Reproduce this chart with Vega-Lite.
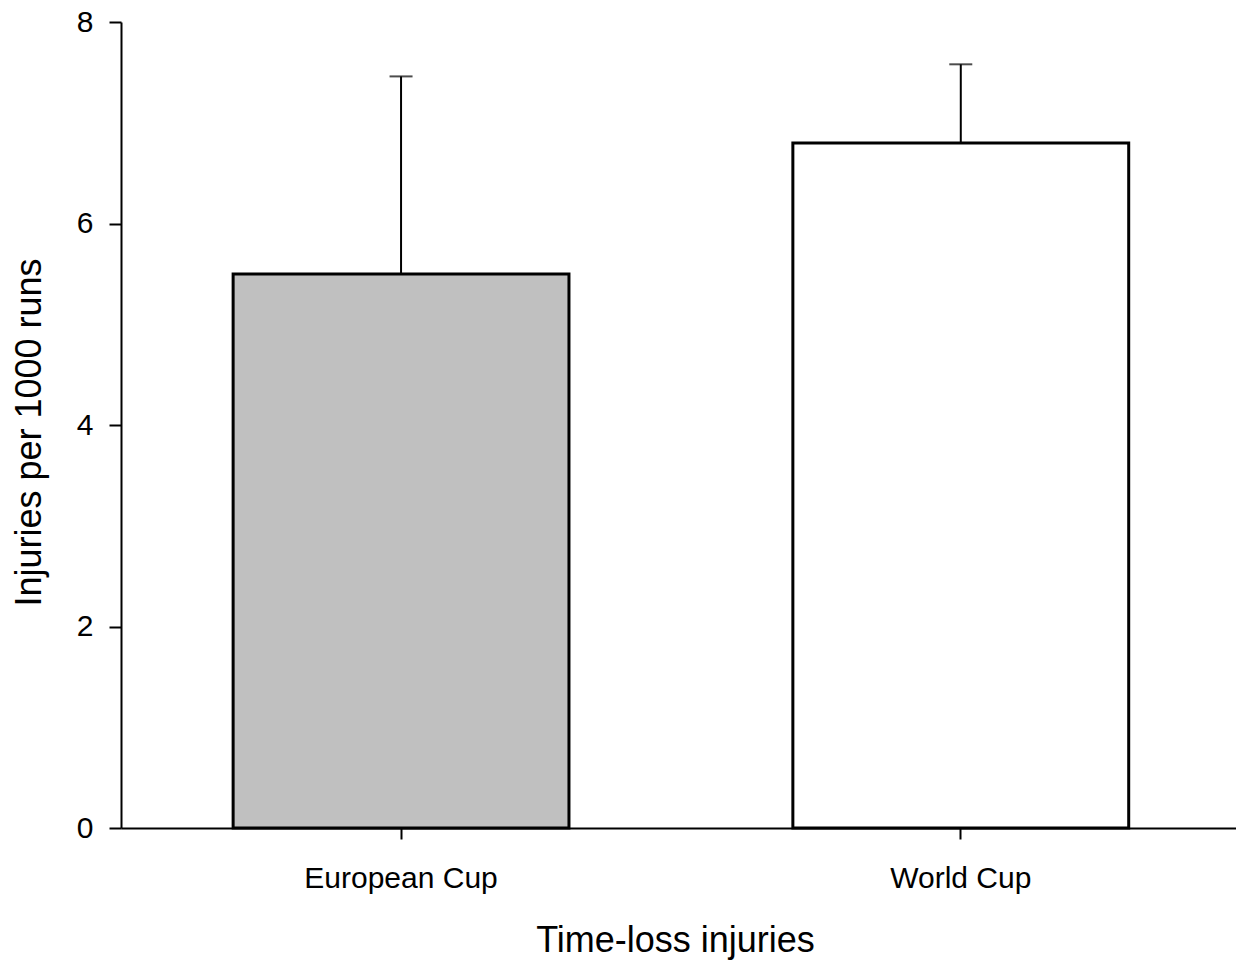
{
  "$schema": "https://vega.github.io/schema/vega-lite/v6.json",
  "width": 1115,
  "height": 806,
  "autosize": "none",
  "padding": {"left": 121, "top": 22, "right": 0, "bottom": 138},
  "background": "white",
  "config": {
    "view": {"stroke": null},
    "font": "Liberation Sans",
    "axis": {
      "domainColor": "black",
      "domainWidth": 2,
      "tickColor": "black",
      "tickWidth": 2,
      "labelColor": "black",
      "titleColor": "black",
      "labelFontSize": 30,
      "titleFontSize": 36,
      "titleFontWeight": "normal",
      "labelLimit": 0,
      "grid": false
    }
  },
  "data": {
    "values": [
      {"event": "European Cup", "rate": 5.5, "upper": 7.46},
      {"event": "World Cup", "rate": 6.8, "upper": 7.58}
    ]
  },
  "encoding": {
    "x": {
      "field": "event",
      "type": "nominal",
      "sort": null,
      "scale": {"type": "band", "paddingInner": 0.4, "paddingOuter": 0.196, "align": 0.511},
      "axis": {
        "title": "Time-loss injuries",
        "labelAngle": 0,
        "tickSize": 11,
        "labelPadding": 24,
        "titlePadding": 30,
        "titleX": 554
      }
    }
  },
  "layer": [
    {
      "mark": {"type": "rule", "color": "black", "strokeWidth": 2},
      "encoding": {
        "y": {"field": "rate", "type": "quantitative"},
        "y2": {"field": "upper"}
      }
    },
    {
      "mark": {"type": "tick", "color": "black", "size": 23, "thickness": 2},
      "encoding": {
        "y": {"field": "upper", "type": "quantitative"}
      }
    },
    {
      "mark": {"type": "bar", "stroke": "black", "strokeWidth": 3},
      "encoding": {
        "y": {
          "field": "rate",
          "type": "quantitative",
          "scale": {"domain": [0, 8], "nice": false},
          "axis": {
            "title": "Injuries per 1000 runs",
            "values": [0, 2, 4, 6, 8],
            "format": "d",
            "tickSize": 12,
            "labelPadding": 16,
            "titlePadding": 28,
            "titleY": 410
          }
        },
        "fill": {
          "field": "event",
          "type": "nominal",
          "scale": {"domain": ["European Cup", "World Cup"], "range": ["#c0c0c0", "#ffffff"]},
          "legend": null
        }
      }
    }
  ]
}
